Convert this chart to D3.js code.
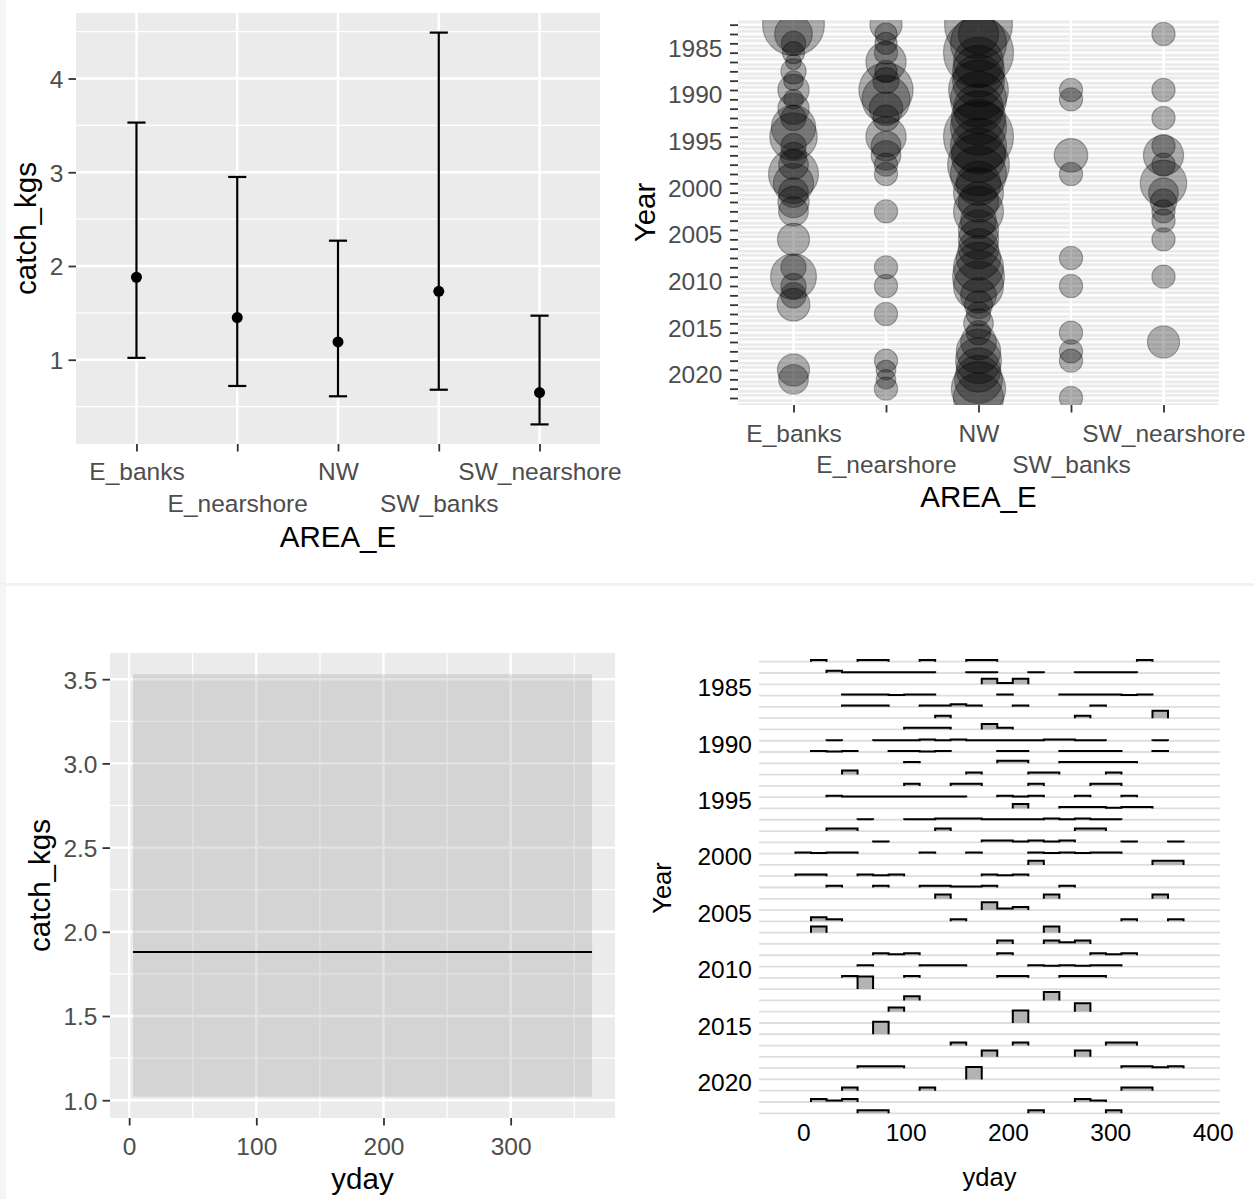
<!DOCTYPE html>
<html><head><meta charset="utf-8">
<script src="https://cdn.jsdelivr.net/npm/d3@7"></script>
<style>
html,body{margin:0;padding:0;background:#fff;}
svg{display:block;font-family:"Liberation Sans",Arial,Helvetica,sans-serif;}
</style></head><body>
<svg id="c" width="1254" height="1199"></svg>
<script>
// ================= DATA =================
const areas = ["E_banks","E_nearshore","NW","SW_banks","SW_nearshore"];
// panel 1: mean catch with interval
const catchMean  = [1.88, 1.45, 1.19, 1.73, 0.65];
const catchLower = [1.02, 0.72, 0.61, 0.68, 0.31];
const catchUpper = [3.53, 2.95, 2.27, 4.49, 1.47];
const catchTicks = [1, 2, 3, 4];

// panel 2: bubbles [Year, catch]
const bubbleEbanks = [[1982,78],[1983,29],[1984,12],[1985,10],[1986,5],[1987,13],[1988,8],[1989,20],[1990,8],[1991,20],[1992,13],[1993,40],[1994,46],[1995,13],[1996,14],[1997,18],[1998,51],[1999,33],[2000,18],[2001,20],[2002,18],[2005,21],[2008,13],[2009,43],[2010,13],[2011,13],[2012,22],[2019,21],[2020,18]];
const bubbleEnearshore = [[1982,21],[1983,10],[1984,10],[1985,11],[1986,33],[1987,10],[1988,14],[1989,60],[1990,47],[1991,23],[1992,14],[1994,33],[1995,18],[1996,18],[1997,11],[1998,11],[2002,11],[2008,11],[2010,11],[2013,11],[2018,11],[2019,8],[2020,8],[2021,11]];
const bubbleNW = [[1982,94],[1983,33],[1984,64],[1985,100],[1986,51],[1987,55],[1988,55],[1989,73],[1990,64],[1991,51],[1992,60],[1993,64],[1994,100],[1995,64],[1996,60],[1997,78],[1998,64],[1999,40],[2000,51],[2001,33],[2002,51],[2003,26],[2004,33],[2005,33],[2006,33],[2007,40],[2008,51],[2009,55],[2010,51],[2011,26],[2012,16],[2013,12],[2014,18],[2015,12],[2016,26],[2017,40],[2018,43],[2019,40],[2020,47],[2021,60],[2022,51]];
const bubbleSWbanks = [[1989,11],[1990,11],[1996,23],[1998,11],[2007,11],[2010,11],[2015,11],[2017,11],[2018,11],[2022,11]];
const bubbleSWnearshore = [[1983,11],[1989,11],[1992,11],[1995,11],[1996,33],[1997,11],[1999,44],[2000,18],[2001,14],[2002,11],[2003,11],[2005,11],[2009,11],[2016,21]];
const bubbleYearTicks = [1985,1990,1995,2000,2005,2010,2015,2020];

// panel 3: smooth over yday
const smoothYday = [3, 364];
const smoothFit = 1.88, smoothLower = 1.02, smoothUpper = 3.53;
const ydayTicks = [0, 100, 200, 300];
const smoothYTicks = [1.0, 1.5, 2.0, 2.5, 3.0, 3.5];

// panel 4: binned ridgelines (25 bins over yday 1..365), counts per bin
const ridgeYdayRange = [1, 365];
const ridgeBins = 25;
const ridgeYearTicks = [1985,1990,1995,2000,2005,2010,2015,2020];
const ridgeXTicks = [0,100,200,300,400];
const ridgeCounts = {
1982:{1:1,4:1,5:1,8:1,11:1,12:1,22:1},
1983:{2:3,3:1,4:1,5:1,6:1,7:1,8:1,11:1,12:1,15:1,18:1,19:1,20:1,21:1},
1984:{12:4,13:1,14:4},
1985:{3:2,4:2,5:2,6:1,7:2,8:2,13:2,17:2,18:2,19:2,20:2,21:1,22:2},
1986:{3:1,4:1,5:1,8:1,9:1,10:2,11:1,14:1,19:1},
1987:{9:1,18:1,23:3},
1988:{7:1,8:1,9:1,12:3,13:1},
1989:{2:1,5:1,6:1,7:1,8:2,9:1,10:2,11:1,12:1,13:1,14:1,15:1,16:2,17:2,18:1,19:1,23:1},
1990:{1:2,2:1,3:2,6:2,7:2,8:1,9:2,13:2,14:2,17:2,18:2,19:2,20:2,23:2},
1991:{7:1,13:2,14:2,17:1,18:1,19:1,20:1,21:1},
1992:{3:2,11:1,15:1,16:1,20:1},
1993:{7:1,10:1,11:1,15:1,19:1,20:1},
1994:{2:2,3:1,4:1,5:1,6:1,7:1,8:1,9:1,10:1,13:2,14:1,15:2,18:2,21:2},
1995:{14:6,17:2,18:2,19:2,20:1,21:2,22:2},
1996:{4:1,7:1,8:1,9:2,10:2,11:2,12:1,13:1,14:1,15:1,16:2,17:1,18:2,19:1,20:1},
1997:{2:1,3:1,9:1,18:1,19:1},
1998:{5:1,12:2,13:2,14:1,15:2,16:1,17:2,21:1,24:1},
1999:{0:2,1:1,2:2,3:2,8:2,11:2,15:2,16:1,17:2,18:1,19:2,20:2},
2000:{15:1,23:1,24:1},
2001:{0:2,1:2,4:2,5:1,6:2,12:2,13:1,14:2},
2002:{2:2,5:2,8:2,9:2,10:1,11:1,12:2,17:2},
2003:{9:1,16:1,23:1},
2004:{12:5,13:1,14:2},
2005:{1:2,2:1,10:1,21:1,24:1},
2006:{1:1,16:1},
2007:{13:2,16:2,17:1,18:2},
2008:{5:2,6:1,7:2,13:2,19:2,20:1,21:2},
2009:{4:2,8:2,9:2,10:2,15:2,16:1,17:2,18:1,19:2,20:2},
2010:{3:1,7:1,13:1,14:1,17:1,18:1,19:1},
2011:{4:1},
2012:{7:1,16:2},
2013:{6:1,18:2},
2014:{14:1},
2015:{5:1},
2016:{10:1,14:1,20:1,21:1},
2017:{12:1,18:1},
2018:{4:2,5:2,6:2,21:2,22:2,23:1,24:2},
2019:{11:1},
2020:{3:1,8:1,21:1,22:1},
2021:{1:2,2:1,3:2,18:2,19:1},
2022:{4:1,5:1,15:1,20:1}
};

// ================= STYLE =================
const FT = 24.5, FTT = 29.5;
const TXT = "#4D4D4D", TICK = "#333333", PANEL = "#EBEBEB";
const MAJ = 2.4, MIN = 1.2;
function expand(lo, hi, m = 0.05) { const r = hi - lo; return [lo - r * m, hi + r * m]; }

const svg = d3.select("#c");
svg.append("rect").attr("width", 1254).attr("height", 1199).attr("fill", "#fff");
svg.append("rect").attr("x", 0).attr("y", 0).attr("width", 6).attr("height", 1199).attr("fill", "#f5f5f5");
svg.append("rect").attr("x", 0).attr("y", 583).attr("width", 1254).attr("height", 3).attr("fill", "#f2f2f2");

function styleAxis(g, col) {
  g.select(".domain").remove();
  g.selectAll(".tick line").attr("stroke", TICK).attr("stroke-width", 1.8);
  g.selectAll(".tick text").attr("fill", col || TXT).attr("font-size", FT)
    .attr("font-family", '"Liberation Sans",Arial,sans-serif');
}
function dodgeLabels(g, rowOff1, rowOff2) {
  g.selectAll(".tick text").attr("dy", null)
    .attr("y", (d, i) => (i % 2 === 0 ? rowOff1 : rowOff2));
}

// ================= PANEL 1 =================
{
  const P = { x0: 76, x1: 600, y0: 13, y1: 444 };
  const x = d3.scalePoint().domain(areas).range([P.x0, P.x1]).padding(0.6);
  const y = d3.scaleLinear().domain(expand(d3.min(catchLower), d3.max(catchUpper))).range([P.y1, P.y0]);
  const g = svg.append("g");
  g.append("rect").attr("x", P.x0).attr("y", P.y0).attr("width", P.x1 - P.x0).attr("height", P.y1 - P.y0).attr("fill", PANEL);
  const [d0, d1] = y.domain();
  const minor = d3.range(0.5, 5, 1).filter(v => v > d0 && v < d1);
  g.selectAll(".mn").data(minor).join("line").attr("x1", P.x0).attr("x2", P.x1)
    .attr("y1", d => y(d)).attr("y2", d => y(d)).attr("stroke", "#fff").attr("stroke-width", MIN);
  g.selectAll(".mj").data(catchTicks).join("line").attr("x1", P.x0).attr("x2", P.x1)
    .attr("y1", d => y(d)).attr("y2", d => y(d)).attr("stroke", "#fff").attr("stroke-width", MAJ);
  g.selectAll(".vx").data(areas).join("line").attr("x1", d => x(d)).attr("x2", d => x(d))
    .attr("y1", P.y0).attr("y2", P.y1).attr("stroke", "#fff").attr("stroke-width", MAJ);
  const cap = x.step() * 0.09;
  areas.forEach((a, i) => {
    const cx = x(a);
    g.append("line").attr("x1", cx).attr("x2", cx).attr("y1", y(catchLower[i])).attr("y2", y(catchUpper[i])).attr("stroke", "#000").attr("stroke-width", 2.2);
    g.append("line").attr("x1", cx - cap).attr("x2", cx + cap).attr("y1", y(catchLower[i])).attr("y2", y(catchLower[i])).attr("stroke", "#000").attr("stroke-width", 2.2);
    g.append("line").attr("x1", cx - cap).attr("x2", cx + cap).attr("y1", y(catchUpper[i])).attr("y2", y(catchUpper[i])).attr("stroke", "#000").attr("stroke-width", 2.2);
    g.append("circle").attr("cx", cx).attr("cy", y(catchMean[i])).attr("r", 5.5).attr("fill", "#000");
  });
  const ay = g.append("g").attr("transform", `translate(${P.x0},0)`)
    .call(d3.axisLeft(y).tickValues(catchTicks).tickFormat(d3.format("d")).tickSize(7.5).tickPadding(5));
  styleAxis(ay);
  ay.selectAll(".tick text").attr("dy", "0.36em");
  const ax = g.append("g").attr("transform", `translate(0,${P.y1})`)
    .call(d3.axisBottom(x).tickSize(7.5));
  styleAxis(ax);
  dodgeLabels(ax, 36, 68);
  g.append("text").attr("x", (P.x0 + P.x1) / 2).attr("y", 547).attr("text-anchor", "middle")
    .attr("font-size", FTT).attr("fill", "#000").text("AREA_E");
  g.append("text").attr("transform", `translate(36,${(P.y0 + P.y1) / 2}) rotate(-90)`).attr("text-anchor", "middle")
    .attr("font-size", FTT).attr("fill", "#000").text("catch_kgs");
}

// ================= PANEL 2 =================
{
  const P = { x0: 738, x1: 1219, y0: 20, y1: 405 };
  const x = d3.scalePoint().domain(areas).range([P.x0, P.x1]).padding(0.6);
  const y = d3.scaleLinear().domain([1981.5, 2022.75]).range([P.y0, P.y1]);
  const r = d3.scaleSqrt().domain([0, 100]).range([0, 35]);
  const g = svg.append("g");
  g.append("defs").append("clipPath").attr("id", "clip2").append("rect")
    .attr("x", P.x0).attr("y", P.y0).attr("width", P.x1 - P.x0).attr("height", P.y1 - P.y0);
  g.append("rect").attr("x", P.x0).attr("y", P.y0).attr("width", P.x1 - P.x0).attr("height", P.y1 - P.y0).attr("fill", PANEL);
  const years = d3.range(1982, 2023);
  const halfYears = d3.range(1981.5, 2023, 1).filter(v => v >= y.domain()[0] && v <= y.domain()[1]);
  g.selectAll(".mn").data(halfYears).join("line").attr("x1", P.x0).attr("x2", P.x1)
    .attr("y1", d => y(d)).attr("y2", d => y(d)).attr("stroke", "#fff").attr("stroke-width", MIN);
  g.selectAll(".mj").data(years).join("line").attr("x1", P.x0).attr("x2", P.x1)
    .attr("y1", d => y(d)).attr("y2", d => y(d)).attr("stroke", "#fff").attr("stroke-width", MAJ);
  g.selectAll(".vx").data(areas).join("line").attr("x1", d => x(d)).attr("x2", d => x(d))
    .attr("y1", P.y0).attr("y2", P.y1).attr("stroke", "#fff").attr("stroke-width", MAJ);
  const series = [bubbleEbanks, bubbleEnearshore, bubbleNW, bubbleSWbanks, bubbleSWnearshore];
  const pts = [];
  series.forEach((s, i) => s.forEach(([yr, v]) => pts.push({ a: areas[i], yr, v })));
  g.append("g").attr("clip-path", "url(#clip2)").selectAll("circle").data(pts).join("circle")
    .attr("cx", d => x(d.a)).attr("cy", d => y(d.yr)).attr("r", d => r(d.v))
    .attr("fill", "rgba(0,0,0,0.3)").attr("stroke", "rgba(0,0,0,0.3)").attr("stroke-width", 1.2);
  const ay = g.append("g").attr("transform", `translate(${P.x0},0)`)
    .call(d3.axisLeft(y).tickValues(years).tickFormat("").tickSize(8));
  styleAxis(ay);
  g.selectAll(".ylab").data(bubbleYearTicks).join("text")
    .attr("x", P.x0 - 8 - 7.5).attr("y", d => y(d - 0.5)).attr("dy", "0.36em")
    .attr("text-anchor", "end").attr("font-size", FT).attr("fill", TXT).text(d => d);
  const ax = g.append("g").attr("transform", `translate(0,${P.y1})`)
    .call(d3.axisBottom(x).tickSize(7.5));
  styleAxis(ax);
  dodgeLabels(ax, 37, 68);
  g.append("text").attr("x", (P.x0 + P.x1) / 2).attr("y", 507).attr("text-anchor", "middle")
    .attr("font-size", FTT).attr("fill", "#000").text("AREA_E");
  g.append("text").attr("transform", `translate(655,${(P.y0 + P.y1) / 2}) rotate(-90)`).attr("text-anchor", "middle")
    .attr("font-size", FTT).attr("fill", "#000").text("Year");
}

// ================= PANEL 3 =================
{
  const P = { x0: 110, x1: 615, y0: 653, y1: 1118 };
  const x = d3.scaleLinear().domain(expand(smoothYday[0], smoothYday[1])).range([P.x0, P.x1]);
  const y = d3.scaleLinear().domain(expand(smoothLower, smoothUpper)).range([P.y1, P.y0]);
  const g = svg.append("g");
  g.append("rect").attr("x", P.x0).attr("y", P.y0).attr("width", P.x1 - P.x0).attr("height", P.y1 - P.y0).attr("fill", PANEL);
  const [xd0, xd1] = x.domain(), [yd0, yd1] = y.domain();
  const xMinor = d3.range(50, 400, 100).filter(v => v > xd0 && v < xd1);
  const yMinor = d3.range(0.75, 4, 0.5).filter(v => v > yd0 && v < yd1);
  g.selectAll(".ymn").data(yMinor).join("line").attr("x1", P.x0).attr("x2", P.x1)
    .attr("y1", d => y(d)).attr("y2", d => y(d)).attr("stroke", "#fff").attr("stroke-width", MIN);
  g.selectAll(".xmn").data(xMinor).join("line").attr("y1", P.y0).attr("y2", P.y1)
    .attr("x1", d => x(d)).attr("x2", d => x(d)).attr("stroke", "#fff").attr("stroke-width", MIN);
  g.selectAll(".ymj").data(smoothYTicks).join("line").attr("x1", P.x0).attr("x2", P.x1)
    .attr("y1", d => y(d)).attr("y2", d => y(d)).attr("stroke", "#fff").attr("stroke-width", MAJ);
  g.selectAll(".xmj").data(ydayTicks).join("line").attr("y1", P.y0).attr("y2", P.y1)
    .attr("x1", d => x(d)).attr("x2", d => x(d)).attr("stroke", "#fff").attr("stroke-width", MAJ);
  const band = [{ x: smoothYday[0], lo: smoothLower, hi: smoothUpper }, { x: smoothYday[1], lo: smoothLower, hi: smoothUpper }];
  g.append("path").datum(band)
    .attr("d", d3.area().x(d => x(d.x)).y0(d => y(d.lo)).y1(d => y(d.hi)))
    .attr("fill", "#999999").attr("fill-opacity", 0.27);
  g.append("path").datum(band)
    .attr("d", d3.line().x(d => x(d.x)).y(() => y(smoothFit)))
    .attr("stroke", "#000").attr("stroke-width", 2).attr("fill", "none");
  const ay = g.append("g").attr("transform", `translate(${P.x0},0)`)
    .call(d3.axisLeft(y).tickValues(smoothYTicks).tickFormat(d3.format(".1f")).tickSize(7.5).tickPadding(5));
  styleAxis(ay);
  ay.selectAll(".tick text").attr("dy", "0.36em");
  const ax = g.append("g").attr("transform", `translate(0,${P.y1})`)
    .call(d3.axisBottom(x).tickValues(ydayTicks).tickSize(7.5));
  styleAxis(ax);
  ax.selectAll(".tick text").attr("dy", null).attr("y", 37);
  g.append("text").attr("x", (P.x0 + P.x1) / 2).attr("y", 1188.5).attr("text-anchor", "middle")
    .attr("font-size", FTT).attr("fill", "#000").text("yday");
  g.append("text").attr("transform", `translate(50,${(P.y0 + P.y1) / 2}) rotate(-90)`).attr("text-anchor", "middle")
    .attr("font-size", FTT).attr("fill", "#000").text("catch_kgs");
}

// ================= PANEL 4 =================
{
  const P = { x0: 759, x1: 1220 };
  const years = Object.keys(ridgeCounts).map(Number);
  const width = (ridgeYdayRange[1] - ridgeYdayRange[0]) / (ridgeBins - 1);
  const origin = width / 2 + Math.floor((ridgeYdayRange[0] - width / 2) / width) * width;
  const edges = d3.range(ridgeBins + 1).map(k => origin + k * width);
  const x = d3.scaleLinear().domain(expand(edges[0] - width, edges[ridgeBins] + width)).range([P.x0, P.x1]);
  const y = d3.scaleLinear().domain([d3.min(years), d3.max(years)]).range([661.7, 1113.3]);
  const h = d3.scaleLinear().domain([0, 1]).range([0, 12.5]);
  const g = svg.append("g");
  g.selectAll(".grid").data(years).join("line").attr("x1", P.x0).attr("x2", P.x1)
    .attr("y1", d => y(d)).attr("y2", d => y(d)).attr("stroke", "#dedede").attr("stroke-width", 1.8);
  const line = d3.line().x(d => x(d[0])).y(d => d[1]);
  years.forEach(yr => {
    const cnt = d3.range(ridgeBins).map(b => ridgeCounts[yr][b] || 0);
    const n = d3.sum(cnt);
    const base = y(yr);
    let b = 0;
    while (b < ridgeBins) {
      if (cnt[b] === 0) { b++; continue; }
      const pts = [[edges[b], base]];
      let e = b;
      while (e < ridgeBins && cnt[e] > 0) {
        const top = base - h(cnt[e] / n);
        pts.push([edges[e], top], [edges[e + 1], top]);
        e++;
      }
      pts.push([edges[e], base]);
      g.append("path").attr("d", line(pts) + "Z").attr("fill", "#B3B3B3").attr("stroke", "none");
      g.append("path").attr("d", line(pts)).attr("fill", "none").attr("stroke", "#000")
        .attr("stroke-width", 2).attr("stroke-linejoin", "miter");
      b = e;
    }
  });
  const ay = g.append("g").attr("transform", `translate(${P.x0},0)`)
    .call(d3.axisLeft(y).tickValues(ridgeYearTicks).tickFormat(d3.format("d")).tickSize(0).tickPadding(7));
  styleAxis(ay, "#000");
  ay.selectAll(".tick text").attr("dy", "0.0em");
  const ax = g.append("g").attr("transform", `translate(0,1113.3)`)
    .call(d3.axisBottom(x).tickValues(ridgeXTicks).tickSize(0));
  styleAxis(ax, "#000");
  ax.selectAll(".tick text").attr("dy", null).attr("y", 28);
  g.append("text").attr("x", (P.x0 + P.x1) / 2).attr("y", 1186).attr("text-anchor", "middle")
    .attr("font-size", 25.5).attr("fill", "#000").text("yday");
  g.append("text").attr("transform", `translate(671,888) rotate(-90)`).attr("text-anchor", "middle")
    .attr("font-size", 25.5).attr("fill", "#000").text("Year");
}
</script>
</body></html>
